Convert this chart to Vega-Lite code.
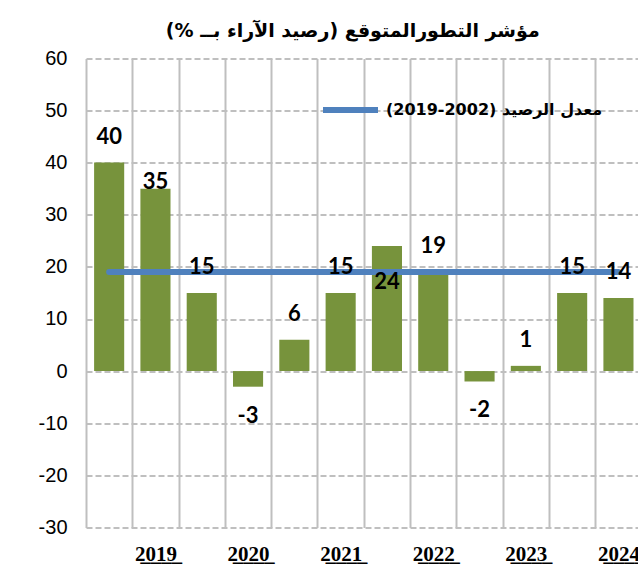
{
  "$schema": "https://vega.github.io/schema/vega-lite/v6.json",
  "width": 555.6,
  "height": 469,
  "autosize": {"type": "none"},
  "padding": {"left": 86, "top": 58.4, "right": -3.6, "bottom": 43.6},
  "background": "white",
  "title": {
    "text": "\u202Bمؤشر التطورالمتوقع (رصيد الآراء بــ %)\u202C",
    "font": "DejaVu Sans",
    "fontSize": 19,
    "fontWeight": "bold",
    "color": "black",
    "anchor": "middle",
    "frame": "group",
    "baseline": "alphabetic",
    "offset": 22,
    "dx": -11,
    "dy": 30
  },
  "config": {"view": {"stroke": null}},
  "data": {
    "values": [
      {"p": "2019-1", "v": 40, "avg": 19},
      {"p": "2019-2", "v": 35, "avg": 19},
      {"p": "2020-1", "v": 15, "avg": 19},
      {"p": "2020-2", "v": -3, "avg": 19},
      {"p": "2021-1", "v": 6, "avg": 19},
      {"p": "2021-2", "v": 15, "avg": 19},
      {"p": "2022-1", "v": 24, "avg": 19},
      {"p": "2022-2", "v": 19, "avg": 19},
      {"p": "2023-1", "v": -2, "avg": 19},
      {"p": "2023-2", "v": 1, "avg": 19},
      {"p": "2024-1", "v": 15, "avg": 19},
      {"p": "2024-2", "v": 14, "avg": 19}
    ]
  },
  "encoding": {
    "x": {
      "field": "p",
      "type": "ordinal",
      "sort": null,
      "scale": {"paddingInner": 0.35, "paddingOuter": 0.175},
      "axis": {
        "title": null,
        "domain": false,
        "ticks": false,
        "grid": true,
        "bandPosition": 0,
        "tickOffset": -8.15,
        "labelOffset": 8.15,
        "gridColor": "#BFBFBF",
        "gridWidth": 2,
        "labelAngle": 0,
        "labelFont": "Liberation Serif",
        "labelFontSize": 21,
        "labelFontWeight": "bold",
        "labelColor": "black",
        "labelPadding": 16,
        "labelExpr": "slice(datum.value,5)=='2' ? slice(datum.value,0,1)+'\u0332'+slice(datum.value,1,2)+'\u0332'+slice(datum.value,2,3)+'\u0332'+slice(datum.value,3,4)+'\u0332' : ''"
      }
    }
  },
  "layer": [
    {
      "mark": {"type": "bar", "color": "#77933C"},
      "encoding": {
        "y": {
          "field": "v",
          "type": "quantitative",
          "scale": {"domain": [-30, 60], "nice": false, "zero": false},
          "axis": {
            "title": null,
            "values": [-30, -20, -10, 0, 10, 20, 30, 40, 50, 60],
            "labelExpr": "'' + datum.value",
            "domain": false,
            "ticks": false,
            "grid": true,
            "gridColor": "#BFBFBF",
            "gridWidth": 2,
            "gridDash": [6, 3],
            "labelFont": "Liberation Sans",
            "labelFontSize": 20,
            "labelColor": "black",
            "labelPadding": 19
          }
        }
      }
    },
    {
      "mark": {"type": "line", "strokeWidth": 6, "strokeCap": "round"},
      "encoding": {
        "y": {"field": "avg", "type": "quantitative"},
        "color": {
          "datum": "\u202Bمعدل الرصيد (2002-2019)\u202C",
          "scale": {"range": ["#4F81BD"]},
          "legend": {
            "orient": "none",
            "legendX": 234,
            "legendY": 21,
            "title": null,
            "symbolType": "stroke",
            "symbolSize": 3025,
            "symbolStrokeWidth": 6,
            "labelFont": "DejaVu Sans",
            "labelFontSize": 16,
            "labelFontWeight": "bold",
            "labelColor": "black",
            "labelLimit": 400,
            "labelOffset": 5
          }
        }
      }
    },
    {
      "transform": [{"filter": "datum.v >= 0 && datum.p != '2019-2' && datum.p != '2022-1'"}],
      "mark": {"type": "text", "font": "Lato", "fontSize": 22, "fontWeight": "bold", "color": "black", "baseline": "middle", "dy": -26},
      "encoding": {"y": {"field": "v", "type": "quantitative"}, "text": {"field": "v", "type": "nominal"}}
    },
    {
      "transform": [{"filter": "datum.v < 0"}],
      "mark": {"type": "text", "font": "Lato", "fontSize": 22, "fontWeight": "bold", "color": "black", "baseline": "middle", "dy": 29},
      "encoding": {"y": {"field": "v", "type": "quantitative"}, "text": {"field": "v", "type": "nominal"}}
    },
    {
      "transform": [{"filter": "datum.p == '2019-2'"}],
      "mark": {"type": "text", "font": "Lato", "fontSize": 22, "fontWeight": "bold", "color": "black", "baseline": "middle", "dy": -7},
      "encoding": {"y": {"field": "v", "type": "quantitative"}, "text": {"field": "v", "type": "nominal"}}
    },
    {
      "transform": [{"filter": "datum.p == '2022-1'"}],
      "mark": {"type": "text", "font": "Lato", "fontSize": 22, "fontWeight": "bold", "color": "black", "baseline": "middle", "dy": 36},
      "encoding": {"y": {"field": "v", "type": "quantitative"}, "text": {"field": "v", "type": "nominal"}}
    }
  ]
}
